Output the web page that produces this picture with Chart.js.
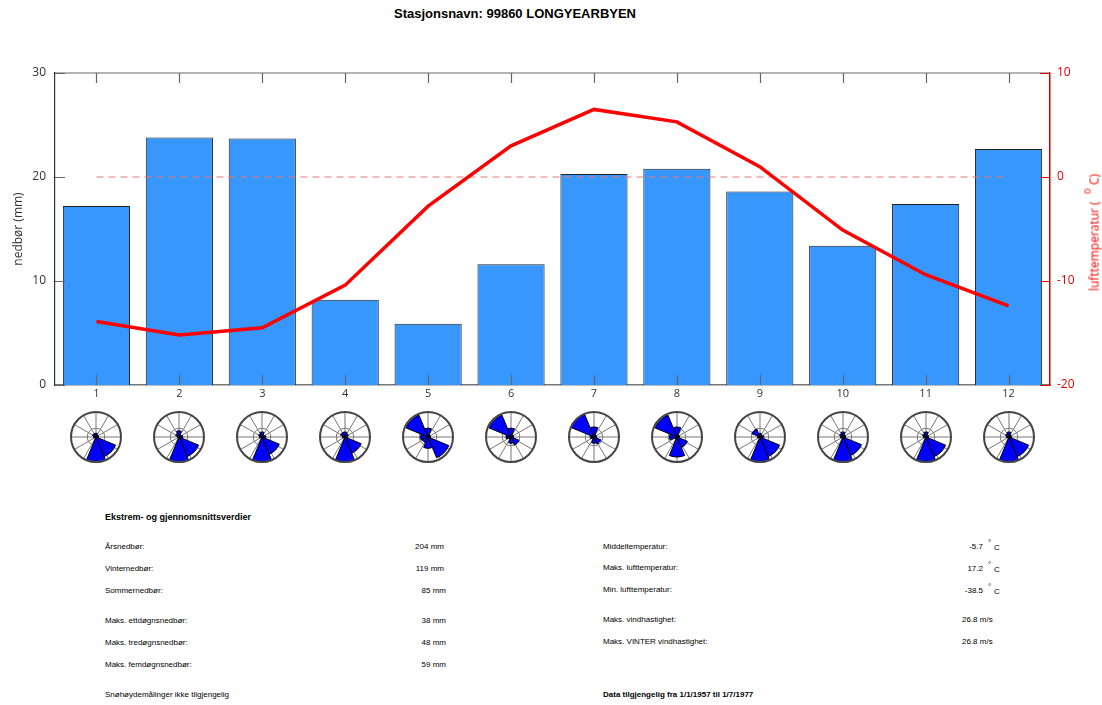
<!DOCTYPE html>
<html>
<head>
<meta charset="utf-8">
<script src="https://cdn.jsdelivr.net/npm/chart.js@4/dist/chart.umd.min.js"></script>
<style>
body { margin: 0; background: #fff; width: 1102px; height: 705px; position: relative; overflow: hidden; font-family: "Liberation Sans", Arial, sans-serif; }
#main { position: absolute; left: 0; top: 0; }
.rose { position: absolute; }
#title { position: absolute; left: 0; top: 6px; width: 1030px; text-align: center; font-weight: bold; font-size: 13px; }
#ytitle2 { position: absolute; left: 992px; top: 222px; width: 200px; text-align: center; color: #ff0000; font-family: "Open Sans", sans-serif; font-size: 12px; line-height: 16px; transform: rotate(-90deg); white-space: nowrap; }
#ytitle2 sup { font-size: 10px; position: relative; top: -3px; margin-left: 4px; }
.t { position: absolute; font-size: 8px; line-height: 10px; white-space: nowrap; color: #000; }
.b { font-weight: bold; }
.r { text-align: right; width: 80px; }
</style>
</head>
<body>
<div id="title">Stasjonsnavn: 99860 LONGYEARBYEN</div>
<canvas id="main" width="1102" height="405"></canvas>
<div id="ytitle2">lufttemperatur ( <sup>o</sup> C)</div>

<div class="t b" style="left:105px;top:512px;font-size:9px;">Ekstrem- og gjennomsnittsverdier</div>

<div class="t" style="left:105px;top:542px;">Årsnedbør:</div>
<div class="t r" style="left:364px;top:542px;">204 mm</div>
<div class="t" style="left:105px;top:564px;">Vinternedbør:</div>
<div class="t r" style="left:364px;top:564px;">119 mm</div>
<div class="t" style="left:105px;top:586px;">Sommernedbør:</div>
<div class="t r" style="left:366px;top:586px;">85 mm</div>
<div class="t" style="left:105px;top:616px;">Maks. ettdøgnsnedbør:</div>
<div class="t r" style="left:366px;top:616px;">38 mm</div>
<div class="t" style="left:105px;top:638px;">Maks. tredøgnsnedbør:</div>
<div class="t r" style="left:366px;top:638px;">48 mm</div>
<div class="t" style="left:105px;top:660px;">Maks. femdøgnsnedbør:</div>
<div class="t r" style="left:366px;top:660px;">59 mm</div>
<div class="t" style="left:105px;top:690px;">Snøhøydemålinger ikke tilgjengelig</div>

<div class="t" style="left:603px;top:542px;">Middeltemperatur:</div>
<div class="t r" style="left:903px;top:542px;">-5.7</div>
<div class="t" style="left:988px;top:538px;">°</div>
<div class="t" style="left:994px;top:543px;">C</div>
<div class="t" style="left:603px;top:563px;">Maks. lufttemperatur:</div>
<div class="t r" style="left:903px;top:564px;">17.2</div>
<div class="t" style="left:988px;top:560px;">°</div>
<div class="t" style="left:994px;top:565px;">C</div>
<div class="t" style="left:603px;top:585px;">Min. lufttemperatur:</div>
<div class="t r" style="left:903px;top:586px;">-38.5</div>
<div class="t" style="left:988px;top:582px;">°</div>
<div class="t" style="left:994px;top:587px;">C</div>
<div class="t" style="left:603px;top:615px;">Maks. vindhastighet:</div>
<div class="t" style="left:962px;top:615px;">26.8 m/s</div>
<div class="t" style="left:603px;top:637px;">Maks. VINTER vindhastighet:</div>
<div class="t" style="left:962px;top:637px;">26.8 m/s</div>
<div class="t b" style="left:603px;top:690px;">Data tilgjengelig fra 1/1/1957 til 1/7/1977</div>

<script>
// maanedlige verdier
const months = ['1', '2', '3', '4', '5', '6', '7', '8', '9', '10', '11', '12'];
const precip = [17.2, 23.8, 23.7, 8.2, 5.9, 11.6, 20.3, 20.8, 18.6, 13.4, 17.4, 22.7];
const temp = [-13.9, -15.2, -14.5, -10.4, -2.8, 3.0, 6.5, 5.3, 1.0, -5.1, -9.4, -12.4];
const zeroLine = [0, 0, 0, 0, 0, 0, 0, 0, 0, 0, 0, 0];
const precipTicks = [0, 10, 20, 30];
const tempTicks = [-20, -10, 0, 10];

// vindroser: N, NØ, Ø, SØ, S, SV, V, NV (andel av ytre ring)
const windDirs = ['N', 'NØ', 'Ø', 'SØ', 'S', 'SV', 'V', 'NV'];
const windRose = [
    [0.15, 0.10, 0.10, 0.85, 1.00, 0.05, 0.10, 0.15],
    [0.25, 0.10, 0.15, 0.85, 1.00, 0.05, 0.05, 0.15],
    [0.20, 0.10, 0.15, 0.75, 1.00, 0.05, 0.10, 0.15],
    [0.20, 0.15, 0.10, 0.70, 1.00, 0.05, 0.10, 0.20],
    [0.35, 0.10, 0.10, 0.90, 0.45, 0.25, 0.30, 0.95],
    [0.35, 0.10, 0.10, 0.35, 0.25, 0.10, 0.20, 0.95],
    [0.40, 0.10, 0.10, 0.30, 0.25, 0.10, 0.15, 1.00],
    [0.40, 0.10, 0.10, 0.45, 0.80, 0.10, 0.30, 0.95],
    [0.15, 0.10, 0.15, 0.85, 1.00, 0.05, 0.10, 0.35],
    [0.20, 0.10, 0.10, 0.80, 1.00, 0.05, 0.10, 0.15],
    [0.20, 0.10, 0.10, 0.85, 1.00, 0.05, 0.10, 0.15],
    [0.20, 0.10, 0.10, 0.85, 1.00, 0.05, 0.10, 0.15]
];

const tickFont = { family: 'Open Sans', size: 12 };

// innoverpekende tick-streker og topplinje
const frame = {
    id: 'frame',
    afterDatasetsDraw(chart) {
        let ctx = chart.ctx;
        let a = chart.chartArea;
        let s = chart.scales;
        ctx.save();
        ctx.lineWidth = 1.2;
        ctx.strokeStyle = '#666';
        ctx.beginPath();
        ctx.moveTo(a.left, a.top);
        ctx.lineTo(a.right, a.top);
        months.forEach(function(m, i) {
            let x = Math.round(s.x.getPixelForValue(i)) + 0.5;
            ctx.moveTo(x, a.bottom);
            ctx.lineTo(x, a.bottom - 10);
            ctx.moveTo(x, a.top);
            ctx.lineTo(x, a.top + 10);
        });
        precipTicks.forEach(function(v) {
            let y = Math.round(s.y.getPixelForValue(v)) + 0.5;
            ctx.moveTo(a.left, y);
            ctx.lineTo(a.left + 10, y);
        });
        ctx.stroke();
        ctx.strokeStyle = '#e00000';
        ctx.beginPath();
        tempTicks.forEach(function(v) {
            let y = Math.round(s.y1.getPixelForValue(v)) + 0.5;
            ctx.moveTo(a.right, y);
            ctx.lineTo(a.right - 10, y);
        });
        ctx.stroke();
        ctx.restore();
    }
};

let mainChart = new Chart(document.getElementById('main').getContext('2d'), {
    type: 'bar',
    data: {
        labels: months,
        datasets: [{
            type: 'line',
            data: temp,
            yAxisID: 'y1',
            borderColor: '#ff0000',
            borderWidth: 3.5,
            pointRadius: 0,
            tension: 0,
            order: 0
        }, {
            type: 'line',
            data: zeroLine,
            yAxisID: 'y1',
            borderColor: '#e47878',
            borderWidth: 1,
            borderDash: [7, 5],
            pointRadius: 0,
            order: 1
        }, {
            data: precip,
            yAxisID: 'y',
            backgroundColor: '#3797fd',
            borderColor: '#222',
            borderWidth: 1,
            barPercentage: 0.81,
            categoryPercentage: 1,
            order: 2
        }]
    },
    options: {
        responsive: false,
        animation: false,
        layout: { padding: { top: 73, left: 0, right: 0, bottom: 0 } },
        plugins: { legend: { display: false }, tooltip: { enabled: false } },
        scales: {
            x: {
                offset: true,
                grid: { display: false, drawTicks: false },
                border: { display: true, color: '#777', width: 1.5 },
                ticks: { color: '#333', font: { family: 'Open Sans', size: 11 }, padding: 2, maxRotation: 0 },
                afterFit: function(scale) { scale.height = 20; }
            },
            y: {
                position: 'left',
                min: 0,
                max: 30,
                ticks: { stepSize: 10, color: '#333', font: tickFont, padding: 9 },
                grid: { display: false, drawTicks: false },
                border: { display: true, color: '#333', width: 1.2 },
                title: { display: true, text: 'nedbør (mm)', color: '#333', font: tickFont, padding: { top: 11, bottom: 0 } },
                afterFit: function(scale) { scale.width = 55; }
            },
            y1: {
                position: 'right',
                min: -20,
                max: 10,
                ticks: { stepSize: 10, color: '#e00000', font: tickFont, padding: 7 },
                grid: { display: false, drawTicks: false },
                border: { display: true, color: '#d00000', width: 1.5 },
                afterFit: function(scale) { scale.width = 52; }
            }
        }
    },
    plugins: [frame]
});

// rutenett for vindrosene
const roseGrid = {
    id: 'roseGrid',
    beforeDatasetsDraw(chart) {
        let r = chart.scales.r;
        let ctx = chart.ctx;
        let R = r.drawingArea;
        ctx.save();
        ctx.strokeStyle = '#777';
        ctx.lineWidth = 1;
        ctx.beginPath();
        for (let k = 0; k < 12; k++) {
            let ang = k * Math.PI / 6;
            ctx.moveTo(r.xCenter, r.yCenter);
            ctx.lineTo(r.xCenter + R * Math.cos(ang), r.yCenter + R * Math.sin(ang));
        }
        ctx.stroke();
        ctx.beginPath();
        ctx.arc(r.xCenter, r.yCenter, R * 0.35, 0, Math.PI * 2);
        ctx.stroke();
        ctx.restore();
    },
    afterDatasetsDraw(chart) {
        let r = chart.scales.r;
        let ctx = chart.ctx;
        ctx.save();
        ctx.strokeStyle = '#444';
        ctx.lineWidth = 2;
        ctx.beginPath();
        ctx.arc(r.xCenter, r.yCenter, r.drawingArea, 0, Math.PI * 2);
        ctx.stroke();
        ctx.restore();
    }
};

windRose.forEach(function(vals, i) {
    let cv = document.createElement('canvas');
    cv.width = 56;
    cv.height = 56;
    cv.className = 'rose';
    let cx = mainChart.scales.x.getPixelForValue(i);
    cv.style.left = Math.round(cx - 28) + 'px';
    cv.style.top = (437 - 28) + 'px';
    document.body.appendChild(cv);
    new Chart(cv.getContext('2d'), {
        type: 'polarArea',
        data: {
            labels: windDirs,
            datasets: [{ data: vals, backgroundColor: '#0000ff', borderColor: '#000', borderWidth: 1 }]
        },
        options: {
            responsive: false,
            animation: false,
            layout: { padding: 3 },
            plugins: { legend: { display: false }, tooltip: { enabled: false } },
            scales: {
                r: {
                    min: 0,
                    max: 1,
                    startAngle: -22.5,
                    ticks: { display: false },
                    grid: { display: false },
                    angleLines: { display: false },
                    pointLabels: { display: false }
                }
            }
        },
        plugins: [roseGrid]
    });
});
</script>
</body>
</html>
